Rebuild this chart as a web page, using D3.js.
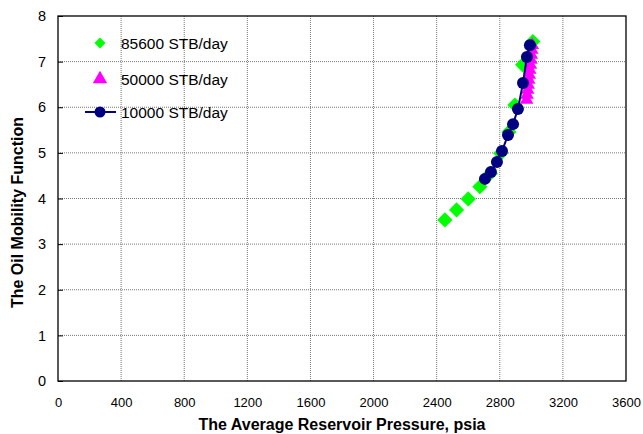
<!DOCTYPE html>
<html>
<head>
<meta charset="utf-8">
<script src="https://cdn.jsdelivr.net/npm/d3@7"></script>
<style>
  body { margin: 0; background: #fff; }
  svg { font-family: "Liberation Sans", Arial, sans-serif; }
</style>
</head>
<body>
<div id="okvir"></div>
<script>
// podaci procitani sa slike
const q85600 = [
  [2452, 3.53], [2526, 3.75], [2600, 3.99], [2674, 4.26], [2740, 4.55],
  [2806, 4.99], [2858, 5.46], [2896, 6.05], [2945, 6.93], [3010, 7.44]
]
const q50000 = [
  [2970, 6.16], [2973, 6.27], [2977, 6.38], [2980, 6.49], [2984, 6.6],
  [2987, 6.71], [2990, 6.82], [2994, 6.93], [2997, 7.04], [3000, 7.15],
  [3003, 7.26], [3006, 7.36]
]
const q10000 = [
  [2706, 4.43], [2744, 4.58], [2782, 4.80], [2814, 5.04], [2852, 5.39],
  [2884, 5.63], [2915, 5.96], [2947, 6.53], [2972, 7.10], [2991, 7.36]
]
const serije = ["85600 STB/day", "50000 STB/day", "10000 STB/day"]
const xTicks = [0, 400, 800, 1200, 1600, 2000, 2400, 2800, 3200, 3600]
const yTicks = [0, 1, 2, 3, 4, 5, 6, 7, 8]

const dimenzije = {
  sirina: 643,
  visina: 434,
  margine: { top: 16, right: 17, bottom: 53, left: 58 },
}
dimenzije.grSirina = dimenzije.sirina - dimenzije.margine.left - dimenzije.margine.right
dimenzije.grVisina = dimenzije.visina - dimenzije.margine.top - dimenzije.margine.bottom

const okvir = d3.select("#okvir").append("svg")
  .attr("width", dimenzije.sirina)
  .attr("height", dimenzije.visina)

const granice = okvir.append("g")
  .attr("transform", `translate(${dimenzije.margine.left},${dimenzije.margine.top})`)

const xSkala = d3.scaleLinear().domain([0, 3600]).range([0, dimenzije.grSirina])
const ySkala = d3.scaleLinear().domain([0, 8]).range([dimenzije.grVisina, 0])

// mreza
granice.append("g").selectAll("line")
  .data(xTicks.slice(1, -1))
  .join("line")
  .attr("x1", d => xSkala(d)).attr("x2", d => xSkala(d))
  .attr("y1", 0).attr("y2", dimenzije.grVisina)
  .attr("stroke", "#777").attr("stroke-width", 1).attr("stroke-dasharray", "1,1")

granice.append("g").selectAll("line")
  .data(yTicks.slice(1, -1))
  .join("line")
  .attr("x1", 0).attr("x2", dimenzije.grSirina)
  .attr("y1", d => ySkala(d)).attr("y2", d => ySkala(d))
  .attr("stroke", "#777").attr("stroke-width", 1).attr("stroke-dasharray", "1,1")

// osi
const xOs = granice.append("g")
  .attr("transform", `translate(0,${dimenzije.grVisina})`)
  .call(d3.axisBottom(xSkala).tickValues(xTicks).tickFormat(d3.format("d")).tickSize(0).tickPadding(17))
xOs.select(".domain").remove()
xOs.selectAll("text").attr("font-size", 13).attr("fill", "#000")
  .style("font-family", "Liberation Sans, Arial, sans-serif")

const yOs = granice.append("g")
  .call(d3.axisLeft(ySkala).tickValues(yTicks).tickSize(-5).tickPadding(12))
yOs.select(".domain").remove()
yOs.selectAll("line").attr("stroke", "#000")
yOs.selectAll("text").attr("font-size", 14.5).attr("fill", "#000")
  .style("font-family", "Liberation Sans, Arial, sans-serif")

granice.append("rect")
  .attr("width", dimenzije.grSirina).attr("height", dimenzije.grVisina)
  .attr("fill", "none").attr("stroke", "#000").attr("stroke-width", 1.3)

okvir.append("text")
  .attr("x", 342).attr("y", 430)
  .attr("text-anchor", "middle").attr("font-size", 16).attr("font-weight", "bold")
  .text("The Average Reservoir Pressure, psia")

okvir.append("text")
  .attr("transform", `translate(23,${dimenzije.margine.top + dimenzije.grVisina / 2 + 14}) rotate(-90)`)
  .attr("text-anchor", "middle").attr("font-size", 16).attr("font-weight", "bold")
  .text("The Oil Mobility Function")

// podaci
granice.append("g").selectAll("path")
  .data(q85600)
  .join("path")
  .attr("transform", d => `translate(${xSkala(d[0])},${ySkala(d[1])}) rotate(45)`)
  .attr("d", d3.symbol().type(d3.symbolSquare).size(115))
  .attr("fill", "#00ff00")

granice.append("g").selectAll("path")
  .data(q50000)
  .join("path")
  .attr("transform", d => `translate(${xSkala(d[0])},${ySkala(d[1])})`)
  .attr("d", d3.symbol().type(d3.symbolTriangle).size(80))
  .attr("fill", "#ff00ff")

granice.append("path")
  .datum(q10000)
  .attr("fill", "none").attr("stroke", "#000080").attr("stroke-width", 2)
  .attr("d", d3.line().x(d => xSkala(d[0])).y(d => ySkala(d[1])))

granice.append("g").selectAll("circle")
  .data(q10000)
  .join("circle")
  .attr("cx", d => xSkala(d[0])).attr("cy", d => ySkala(d[1]))
  .attr("r", 6)
  .attr("fill", "#000080")

// legenda
const legenda = okvir.append("g")
const legY = [43, 79, 112]
legenda.append("path")
  .attr("transform", `translate(100,${legY[0]}) rotate(45)`)
  .attr("d", d3.symbol().type(d3.symbolSquare).size(60))
  .attr("fill", "#00ff00")
legenda.append("path")
  .attr("transform", `translate(100,${legY[1]})`)
  .attr("d", d3.symbol().type(d3.symbolTriangle).size(90))
  .attr("fill", "#ff00ff")
legenda.append("line")
  .attr("x1", 85).attr("x2", 116).attr("y1", legY[2]).attr("y2", legY[2])
  .attr("stroke", "#000080").attr("stroke-width", 2)
legenda.append("circle")
  .attr("cx", 100).attr("cy", legY[2]).attr("r", 5.5).attr("fill", "#000080")

legenda.selectAll("text")
  .data(serije)
  .join("text")
  .attr("x", 121).attr("y", (d, i) => legY[i] + 5.5)
  .attr("font-size", 15.5)
  .text(d => d)
</script>
</body>
</html>
